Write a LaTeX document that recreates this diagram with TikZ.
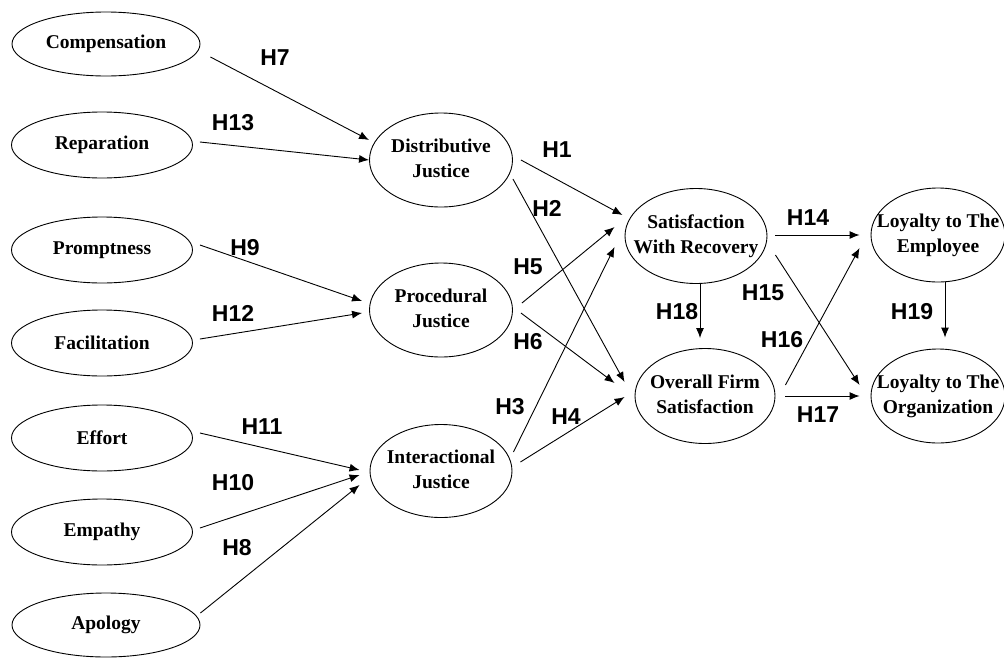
\documentclass[tikz,border=0pt]{standalone}
\usepackage{fontspec}
\setmainfont{Liberation Serif}
\newfontfamily\labfont{Liberation Sans}
\usetikzlibrary{shapes.geometric,arrows.meta}
\newcommand\twoline[2]{\makebox[0pt]{\begin{tabular}{@{}c@{}}#1\\#2\end{tabular}}}
\tikzset{
  ell/.style={draw, ellipse, line width=0.9pt, inner sep=0pt, font=\fontsize{19.5}{25}\selectfont\bfseries},
  hlab/.style={font=\fontsize{23}{26}\selectfont\labfont\bfseries, inner sep=0pt},
  arr/.style={line width=0.9pt, -{Latex[length=10pt,width=8pt]}}
}
\begin{document}
\begin{tikzpicture}[x=1pt,y=-1pt]
\useasboundingbox (0,0) rectangle (1004,659);
\clip (0,0) rectangle (1004,659);
% left column
\node[ell, minimum width=188, minimum height=64] (comp) at (106,44) {\makebox[0pt]{Compensation}};
\node[ell, minimum width=181, minimum height=66] (rep) at (102,145) {\makebox[0pt]{Reparation}};
\node[ell, minimum width=181, minimum height=66] (prompt) at (102,250) {\makebox[0pt]{Promptness}};
\node[ell, minimum width=181, minimum height=66] (facil) at (102,343) {\makebox[0pt]{Facilitation}};
\node[ell, minimum width=181, minimum height=66] (effort) at (102,438) {\makebox[0pt]{Effort}};
\node[ell, minimum width=181, minimum height=66] (empathy) at (102,532) {\makebox[0pt]{Empathy}};
\node[ell, minimum width=188, minimum height=64] (apology) at (106,625) {\makebox[0pt]{Apology}};
% justice
\node[ell, minimum width=143, minimum height=94] (dj) at (441,160) {\twoline{Distributive}{Justice}};
\node[ell, minimum width=143, minimum height=94] (pj) at (441,310) {\twoline{Procedural}{Justice}};
\node[ell, minimum width=142, minimum height=93] (ij) at (441,471) {\twoline{Interactional}{Justice}};
% satisfaction
\node[ell, minimum width=142, minimum height=95] (swr) at (696,236) {\twoline{Satisfaction}{With Recovery}};
\node[ell, minimum width=140, minimum height=95] (ofs) at (705,396) {\twoline{Overall Firm}{Satisfaction}};
% loyalty
\node[ell, minimum width=134, minimum height=94] (le) at (938,235) {\twoline{Loyalty to The}{Employee}};
\node[ell, minimum width=134, minimum height=94] (lo) at (938,396) {\twoline{Loyalty to The}{Organization}};
% arrows
\draw[arr] ([shift={(10,13)}]comp.east) -- ([shift={(0,-20)}]dj.west);
\draw[arr] ([shift={(7,-3)}]rep.east) -- ([shift={(0,0)}]dj.west);
\draw[arr] ([shift={(7,-5)}]prompt.east) -- ([shift={(-7,-9)}]pj.west);
\draw[arr] ([shift={(7,-4)}]facil.east) -- ([shift={(-7,3)}]pj.west);
\draw[arr] ([shift={(7,-5)}]effort.east) -- ([shift={(-10,-1)}]ij.west);
\draw[arr] ([shift={(7,-4)}]empathy.east) -- ([shift={(-10,4)}]ij.west);
\draw[arr] ([shift={(0,-12)}]apology.east) -- ([shift={(-10,14)}]ij.west);
\draw[arr] ([shift={(8,0)}]dj.east) -- ([shift={(-2,-21)}]swr.west);
\draw[arr] ([shift={(0,19)}]dj.east) -- ([shift={(-10,-14)}]ofs.west);
\draw[arr] ([shift={(9,-7)}]pj.east) -- ([shift={(-10,-9)}]swr.west);
\draw[arr] ([shift={(8,3)}]pj.east) -- ([shift={(-20,-13)}]ofs.west);
\draw[arr] ([shift={(1,-19)}]ij.east) -- ([shift={(-10,11)}]swr.west);
\draw[arr] ([shift={(8,-9)}]ij.east) -- ([shift={(-10,1)}]ofs.west);
\draw[arr] ([shift={(8,-1)}]swr.east) -- ([shift={(-11,0)}]le.west);
\draw[arr] ([shift={(8,19)}]swr.east) -- ([shift={(-11,-11)}]lo.west);
\draw[arr] ([shift={(4,0)}]swr.south) -- ([shift={(-5,-10)}]ofs.north);
\draw[arr] ([shift={(10,-11)}]ofs.east) -- ([shift={(-11,13)}]le.west);
\draw[arr] ([shift={(10,0)}]ofs.east) -- ([shift={(-11,0)}]lo.west);
\draw[arr] ([shift={(7,0)}]le.south) -- ([shift={(7,-11)}]lo.north);
% labels
\node[hlab] (h7) at (275,58) {H7};
\node[hlab] (h13) at (233,123) {H13};
\node[hlab] (h9) at (245,248) {H9};
\node[hlab] (h12) at (233,313) {H12};
\node[hlab] (h11) at (262,427) {H11};
\node[hlab] (h10) at (233,483) {H10};
\node[hlab] (h8) at (237,548) {H8};
\node[hlab] (h1) at (557,150) {H1};
\node[hlab] (h2) at (547,208) {H2};
\node[hlab] (h5) at (528,267) {H5};
\node[hlab] (h6) at (528,342) {H6};
\node[hlab] (h3) at (510,407) {H3};
\node[hlab] (h4) at (566,417) {H4};
\node[hlab] (h14) at (808,218) {H14};
\node[hlab] (h15) at (763,293) {H15};
\node[hlab] (h18) at (677,312) {H18};
\node[hlab] (h16) at (782,340) {H16};
\node[hlab] (h17) at (818,415) {H17};
\node[hlab] (h19) at (912,312) {H19};
\end{tikzpicture}
\end{document}
